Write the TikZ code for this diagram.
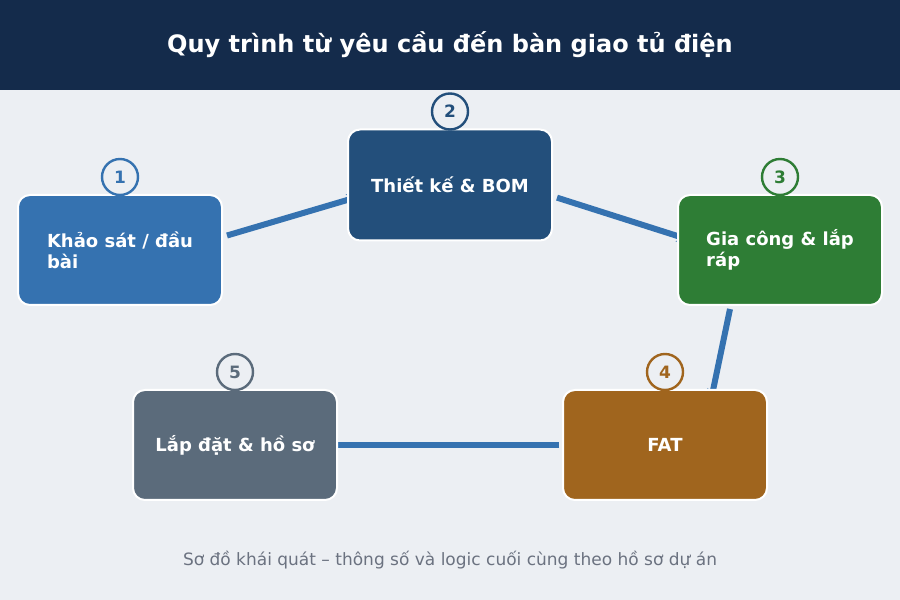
\documentclass[tikz,border=0pt]{standalone}
\usepackage{fontspec}
\setmainfont{DejaVu Sans}
\usepackage{tikz}
\usetikzlibrary{calc,arrows.meta}
\tikzset{>=stealth}

\definecolor{headbg}{HTML}{142B4B}
\definecolor{pagebg}{HTML}{ECEFF3}
\definecolor{cblue}{HTML}{3572B0}
\definecolor{cnavy}{HTML}{234F7B}
\definecolor{cgreen}{HTML}{2E7D35}
\definecolor{cbrown}{HTML}{A0651E}
\definecolor{cslate}{HTML}{5B6B7B}
\definecolor{cfoot}{HTML}{6B7280}

\pgfdeclarelayer{bg}
\pgfdeclarelayer{links}
\pgfsetlayers{bg,links,main}

\tikzset{
  stepbox/.style={draw=white, line width=2pt, rounded corners=12pt,
    minimum width=204pt, minimum height=110pt, text=white, align=left,
    font=\fontsize{18}{21}\selectfont\bfseries, inner sep=0pt},
  badge/.style={circle, draw=#1, line width=2.4pt, fill=pagebg,
    minimum size=36pt, inner sep=0pt, text=#1,
    font=\fontsize{17}{19}\selectfont\bfseries},
  link/.style={draw=cblue, line width=6pt,
    -{Stealth[length=11pt,width=12pt]}}
}

\begin{document}
\begin{tikzpicture}[x=1pt,y=1pt]

  \begin{pgfonlayer}{bg}
    \fill[pagebg] (0,0) rectangle (900,600);
    \fill[headbg] (0,510) rectangle (900,600);
  \end{pgfonlayer}
  \useasboundingbox (0,0) rectangle (900,600);

  \node[text=white, font=\fontsize{24}{28}\selectfont\bfseries] (title) at (450,555)
    {Quy trình từ yêu cầu đến bàn giao tủ điện};

  % cac buoc
  \node[stepbox, fill=cblue]  (b1) at (120,350) {Khảo sát / đầu\\bài};
  \node[stepbox, fill=cnavy, minimum height=111pt]  (b2) at (450,415) {Thiết kế \& BOM};
  \node[stepbox, fill=cgreen] (b3) at (780,350) {Gia công \& lắp\\ráp};
  \node[stepbox, fill=cbrown] (b4) at (665,155) {FAT};
  \node[stepbox, fill=cslate] (b5) at (235,155) {Lắp đặt \& hồ sơ};

  % so thu tu
  \node[badge=cblue]  (n1) at ($(b1.north)+(0,17)$) {1};
  \node[badge=cnavy]  (n2) at ($(b2.north)+(0,17)$) {2};
  \node[badge=cgreen] (n3) at ($(b3.north)+(0,17)$) {3};
  \node[badge=cbrown] (n4) at ($(b4.north)+(0,17)$) {4};
  \node[badge=cslate] (n5) at ($(b5.north)+(0,17)$) {5};

  % mui ten
  \begin{pgfonlayer}{links}
    \draw[link] ($(b1.8)+(4,0)$) -- ($(b2.186)+(11,-1)$);
    \draw[link] ($(b2.-7)+(4,0)$) -- ($(b3.173)+(11,-2)$);
    \draw[link] ($(b3.south)+(-50,-3)$) -- ($(b4.north)+(46,-11)$);
    \draw[link] ($(b4.west)+(-3,0)$) -- ($(b5.east)+(-11,0)$);
  \end{pgfonlayer}

  \node[text=cfoot, font=\fontsize{17}{20}\selectfont] (foot) at (450,40)
    {Sơ đồ khái quát – thông số và logic cuối cùng theo hồ sơ dự án};

\end{tikzpicture}
\end{document}
